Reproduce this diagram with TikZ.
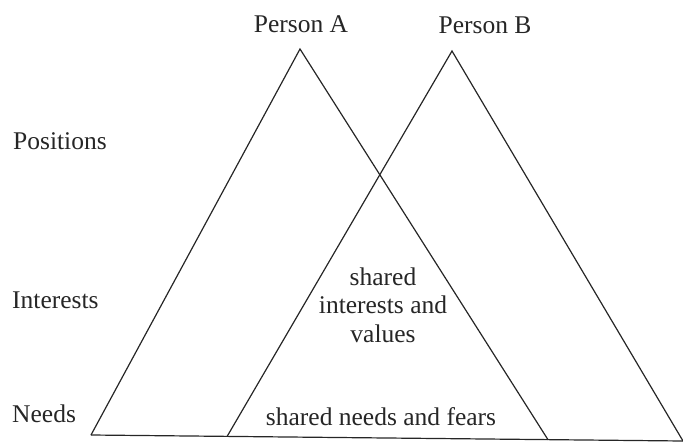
\documentclass[tikz,border=0pt]{standalone}
\usepackage{fontspec}
\setmainfont{Liberation Serif}
\begin{document}
\begin{tikzpicture}[x=1pt, y=-1pt, every node/.style={inner sep=0pt, text=black!85, font=\fontsize{25.5}{28.5}\selectfont}, side/.style={line width=1.2pt, black!85, line join=miter}]
\useasboundingbox (0,0) rectangle (683,442);
% corners of the two triangles
\coordinate (apexA) at (300,49);
\coordinate (leftA) at (91,435);
\coordinate (rightA) at (548,439.7);
\coordinate (apexB) at (452,51);
\coordinate (leftB) at (227,436.6);
\coordinate (rightB) at (683,441);
\draw[side] (leftA) -- (apexA) -- (rightA);
\draw[side] (leftB) -- (apexB) -- (rightB);
\draw[side] (leftA) -- (rightB);
% labels
\node[anchor=base] (personA) at (301,32) {Person A};
\node[anchor=base] (personB) at (485,33) {Person B};
\node[anchor=base west] (positions) at (13,149) {Positions};
\node[anchor=base west] (interests) at (12,308) {Interests};
\node[anchor=base west] (needs) at (12,422) {Needs};
\node[align=center] (sharedint) at (383,305) {shared\\interests and\\values};
\node[anchor=base] (sharedneeds) at (381,425) {shared needs and fears};
\end{tikzpicture}
\end{document}
